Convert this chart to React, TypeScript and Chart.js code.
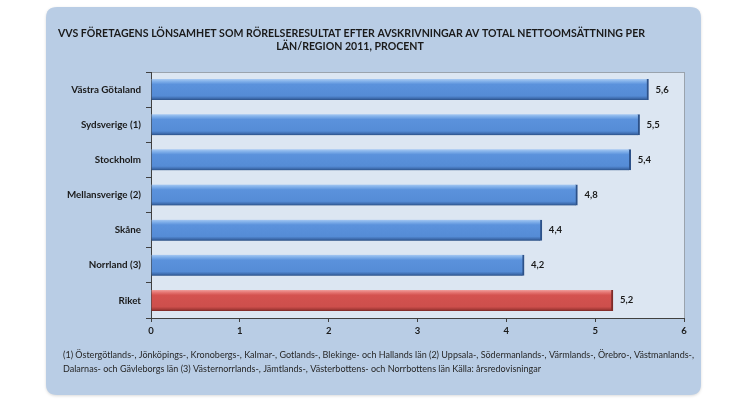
import React, { useEffect, useRef } from "react";
import { Chart, registerables } from "chart.js";

Chart.register(...registerables);

const categories = [
  "Västra Götaland",
  "Sydsverige (1)",
  "Stockholm",
  "Mellansverige (2)",
  "Skåne",
  "Norrland (3)",
  "Riket",
];
const values = [5.6, 5.5, 5.4, 4.8, 4.4, 4.2, 5.2];
const valueLabels = ["5,6", "5,5", "5,4", "4,8", "4,4", "4,2", "5,2"];
const xTicks = [0, 1, 2, 3, 4, 5, 6];
const titleLines = [
  "VVS FÖRETAGENS LÖNSAMHET SOM RÖRELSERESULTAT EFTER AVSKRIVNINGAR AV TOTAL NETTOOMSÄTTNING PER",
  "LÄN/REGION 2011, PROCENT",
];
const footnoteLines = [
  "(1) Östergötlands-, Jönköpings-, Kronobergs-, Kalmar-, Gotlands-, Blekinge- och Hallands län (2) Uppsala-, Södermanlands-, Värmlands-, Örebro-, Västmanlands-,",
  "Dalarnas- och Gävleborgs län (3) Västernorrlands-, Jämtlands-, Västerbottens- och Norrbottens län Källa: årsredovisningar",
];

const FONT = "Lato, 'Open Sans', sans-serif";

function roundRect(ctx: CanvasRenderingContext2D, x: number, y: number, w: number, h: number, r: number) {
  ctx.beginPath();
  ctx.moveTo(x + r, y);
  ctx.lineTo(x + w - r, y);
  ctx.quadraticCurveTo(x + w, y, x + w, y + r);
  ctx.lineTo(x + w, y + h - r);
  ctx.quadraticCurveTo(x + w, y + h, x + w - r, y + h);
  ctx.lineTo(x + r, y + h);
  ctx.quadraticCurveTo(x, y + h, x, y + h - r);
  ctx.lineTo(x, y + r);
  ctx.quadraticCurveTo(x, y, x + r, y);
  ctx.closePath();
}

function drawScaled(ctx: CanvasRenderingContext2D, text: string, x: number, y: number, sx: number) {
  ctx.save();
  ctx.translate(x, y);
  ctx.scale(sx, 1);
  ctx.fillText(text, 0, 0);
  ctx.restore();
}

const decorPlugin = {
  id: "decor",
  beforeDraw(chart: any) {
    const ctx = chart.ctx as CanvasRenderingContext2D;
    const a = chart.chartArea;
    ctx.save();
    ctx.fillStyle = "#ffffff";
    ctx.fillRect(0, 0, chart.width, chart.height);
    ctx.shadowColor = "rgba(0,0,0,0.15)";
    ctx.shadowBlur = 3;
    ctx.shadowOffsetY = 1;
    roundRect(ctx, 46, 7, 655, 388, 11);
    ctx.fillStyle = "#b9cde5";
    ctx.fill();
    ctx.shadowColor = "transparent";
    ctx.fillStyle = "#dce6f2";
    ctx.fillRect(a.left, a.top, a.right - a.left, a.bottom - a.top);
    ctx.strokeStyle = "#9aa3ad";
    ctx.lineWidth = 1;
    ctx.strokeRect(Math.round(a.left) + 0.5, Math.round(a.top) + 0.5, Math.round(a.right - a.left), Math.round(a.bottom - a.top));
    ctx.restore();
  },
  afterDraw(chart: any) {
    const ctx = chart.ctx as CanvasRenderingContext2D;
    ctx.save();
    ctx.fillStyle = "#1a1a1a";
    ctx.textBaseline = "middle";
    ctx.textAlign = "left";
    ctx.font = `bold 11.5px ${FONT}`;
    const t0 = ctx.measureText(titleLines[0]).width;
    const ts = 587 / t0;
    drawScaled(ctx, titleLines[0], 58, 33, ts);
    const t1 = ctx.measureText(titleLines[1]).width * ts;
    drawScaled(ctx, titleLines[1], 350 - t1 / 2, 46, ts);

    ctx.font = `9px ${FONT}`;
    ctx.fillStyle = "#262626";
    const f0 = ctx.measureText(footnoteLines[0]).width;
    const fs = 631 / f0;
    drawScaled(ctx, footnoteLines[0], 63, 355, fs);
    drawScaled(ctx, footnoteLines[1], 63, 369, fs);

    const meta = chart.getDatasetMeta(0);
    ctx.font = `bold 9.5px ${FONT}`;
    ctx.fillStyle = "#1a1a1a";
    meta.data.forEach((bar: any, i: number) => {
      ctx.fillText(valueLabels[i], bar.x + 7, bar.y);
    });
    ctx.restore();
  },
};

function barFill(ctx: any) {
  const chart = ctx.chart;
  const i = ctx.dataIndex;
  const red = categories[i] === "Riket";
  const base = red ? "#d0524f" : "#5990da";
  const yScale = chart.scales && chart.scales.y;
  if (!yScale || typeof i !== "number") return base;
  const yc = yScale.getPixelForValue(i);
  if (!isFinite(yc)) return base;
  const g = chart.ctx.createLinearGradient(0, yc - 10.5, 0, yc + 10.5);
  if (red) {
    g.addColorStop(0, "#f0a09d");
    g.addColorStop(0.12, "#e57572");
    g.addColorStop(0.25, "#d4524f");
    g.addColorStop(0.8, "#cd4f4c");
    g.addColorStop(0.92, "#a83c39");
    g.addColorStop(1, "#7a2826");
  } else {
    g.addColorStop(0, "#a6c8f2");
    g.addColorStop(0.12, "#7eaee9");
    g.addColorStop(0.25, "#5b92dc");
    g.addColorStop(0.8, "#558cd6");
    g.addColorStop(0.92, "#3e6cae");
    g.addColorStop(1, "#2a4f85");
  }
  return g;
}

export default function App() {
  const ref = useRef<HTMLCanvasElement>(null);
  useEffect(() => {
    if (!ref.current) return;
    const chart = new Chart(ref.current, {
      type: "bar",
      data: {
        labels: categories,
        datasets: [
          {
            data: values,
            backgroundColor: barFill as any,
            borderColor: categories.map((c) => (c === "Riket" ? "#7d2a28" : "#2c5189")),
            borderWidth: { left: 0, top: 0, bottom: 0, right: 2 } as any,
            borderSkipped: false as any,
            barThickness: 21,
          },
        ],
      },
      plugins: [decorPlugin],
      options: {
        indexAxis: "y",
        responsive: false,
        animation: false,
        devicePixelRatio: 1,
        layout: { padding: { left: 0, top: 72, right: 66, bottom: 61 } },
        plugins: { legend: { display: false }, tooltip: { enabled: false }, title: { display: false } },
        scales: {
          x: {
            type: "linear",
            min: 0,
            max: 6,
            afterBuildTicks: (s: any) => {
              s.ticks = xTicks.map((v) => ({ value: v }));
            },
            afterFit: (s: any) => {
              s.height = 20;
            },
            grid: { drawOnChartArea: false, drawTicks: true, tickLength: 4, color: "#404040" },
            border: { display: true, color: "#404040", width: 1 },
            ticks: {
              padding: 3,
              color: "#1a1a1a",
              font: { family: FONT, size: 9.5, weight: "bold" },
            },
          },
          y: {
            type: "category",
            offset: true,
            afterFit: (s: any) => {
              s.width = 151;
            },
            grid: { offset: true, drawOnChartArea: false, drawTicks: true, tickLength: 5, color: "#404040" },
            border: { display: true, color: "#404040", width: 1 },
            ticks: {
              padding: 5,
              color: "#1a1a1a",
              font: { family: FONT, size: 9.8, weight: "bold" },
            },
          },
        },
      } as any,
    });
    return () => chart.destroy();
  }, []);
  return (
    <div style={{ position: "absolute", left: 0, top: 0, width: 750, height: 399 }}>
      <canvas ref={ref} width={750} height={399} style={{ display: "block", width: 750, height: 399 }} />
    </div>
  );
}
